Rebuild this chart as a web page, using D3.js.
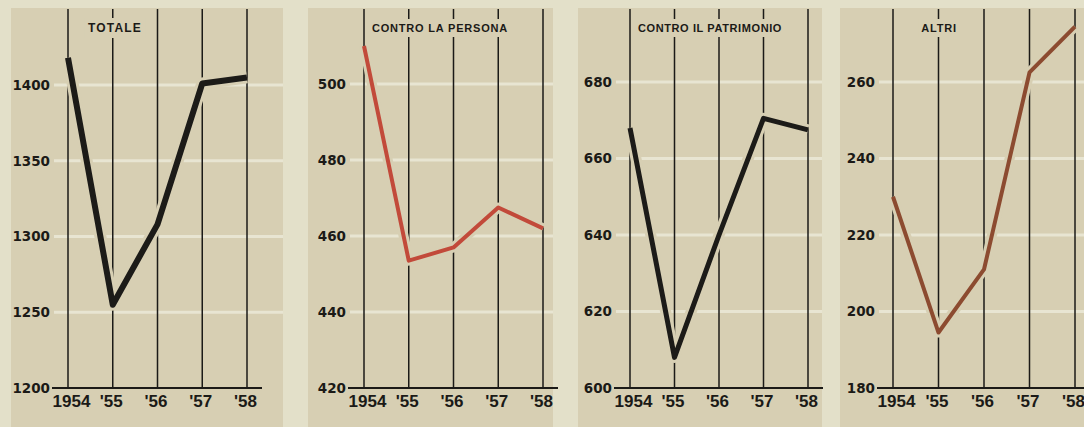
<!DOCTYPE html>
<html>
<head>
<meta charset="utf-8">
<script src="https://cdn.jsdelivr.net/npm/d3@7/dist/d3.min.js"></script>
<style>
  html, body { margin: 0; padding: 0; background: #e3e0c9; }
  svg { display: block; }
</style>
</head>
<body>
<svg id="chart" width="1084" height="427"></svg>
<script>
// Years on the horizontal axis
const years = ["1954", "'55", "'56", "'57", "'58"];

// Series (one per panel)
const totale = [1418, 1255, 1308, 1401, 1405];
const controLaPersona = [510, 453.5, 457, 467.5, 462];
const controIlPatrimonio = [668, 608, 640, 670.5, 667.5];
const altri = [230, 194.5, 211, 262.5, 274.5];

// Vertical-axis tick labels
const totaleTicks = [1200, 1250, 1300, 1350, 1400];
const personaTicks = [420, 440, 460, 480, 500];
const patrimonioTicks = [600, 620, 640, 660, 680];
const altriTicks = [180, 200, 220, 240, 260];

// Panel titles
const titles = ["TOTALE", "CONTRO LA PERSONA", "CONTRO IL PATRIMONIO", "ALTRI"];

const PANEL_BG = "#d7cfb3";
const GRID = "#ece9d8";
const INK = "#1b1a17";

const panels = [
  { title: titles[0], values: totale, ticks: totaleTicks, color: "#1c1b18", width: 6,
    bgX: 11, bgW: 272, x0: 68, x1: 247, top: 85, titleSize: 12, titleSpacing: 1.2, titleX: 115 },
  { title: titles[1], values: controLaPersona, ticks: personaTicks, color: "#c24a3a", width: 4,
    bgX: 308, bgW: 245, x0: 364, x1: 543, top: 84, titleSize: 11, titleSpacing: 0.8, titleX: 440 },
  { title: titles[2], values: controIlPatrimonio, ticks: patrimonioTicks, color: "#1c1b18", width: 5,
    bgX: 578, bgW: 244, x0: 630, x1: 808, top: 82, titleSize: 11, titleSpacing: 0.6, titleX: 710 },
  { title: titles[3], values: altri, ticks: altriTicks, color: "#8c4b30", width: 4,
    bgX: 840, bgW: 244, x0: 893, x1: 1075, top: 82, titleSize: 11, titleSpacing: 0.8, titleX: 939 }
];

const BASE_Y = 388;
const svg = d3.select("#chart");

panels.forEach(p => {
  const g = svg.append("g");

  const x = d3.scalePoint().domain(years).range([p.x0, p.x1]);
  const y = d3.scaleLinear()
    .domain([p.ticks[0], p.ticks[p.ticks.length - 1]])
    .range([BASE_Y, p.top]);

  // panel background
  g.append("rect")
    .attr("x", p.bgX).attr("y", 8)
    .attr("width", p.bgW).attr("height", 427 - 8)
    .attr("fill", PANEL_BG);

  const right = Math.min(p.bgX + p.bgW, 1084);

  // light horizontal guide lines
  g.selectAll("line.grid")
    .data(p.ticks.slice(1))
    .join("line")
    .attr("class", "grid")
    .attr("x1", p.x0 - 14).attr("x2", right)
    .attr("y1", d => y(d)).attr("y2", d => y(d))
    .attr("stroke", GRID).attr("stroke-width", 3).attr("opacity", 0.85);

  // vertical year lines
  g.selectAll("line.year")
    .data(years)
    .join("line")
    .attr("class", "year")
    .attr("x1", d => x(d)).attr("x2", d => x(d))
    .attr("y1", 9).attr("y2", BASE_Y)
    .attr("stroke", INK).attr("stroke-width", 1.5);

  // baseline
  g.append("line")
    .attr("x1", p.x0 - 16).attr("x2", Math.min(p.x1 + 15, 1084))
    .attr("y1", BASE_Y).attr("y2", BASE_Y)
    .attr("stroke", INK).attr("stroke-width", 2);

  // title with a clear band behind it
  const title = g.append("text")
    .attr("x", p.titleX).attr("y", 32)
    .attr("text-anchor", "middle")
    .attr("font-family", "Liberation Sans, Arial, sans-serif")
    .attr("font-weight", "bold")
    .attr("font-size", p.titleSize)
    .attr("letter-spacing", p.titleSpacing)
    .attr("fill", INK)
    .text(p.title);
  const bb = title.node().getBBox();
  g.insert("rect", "text")
    .attr("x", bb.x - 3).attr("y", bb.y - 3)
    .attr("width", bb.width + 6).attr("height", bb.height + 6)
    .attr("fill", PANEL_BG);

  // vertical axis labels
  const yAxis = d3.axisLeft(y).tickValues(p.ticks).tickFormat(d3.format("d"))
    .tickSize(0).tickPadding(0);
  const ya = g.append("g")
    .attr("transform", `translate(${p.x0 - 18},0)`)
    .call(yAxis);
  ya.select(".domain").remove();
  ya.selectAll("text")
    .attr("font-family", "DejaVu Sans, sans-serif")
    .attr("font-weight", "bold")
    .attr("font-size", 13.5)
    .attr("fill", INK);

  // year labels
  const xAxis = d3.axisBottom(x).tickSize(0).tickPadding(0);
  const xa = g.append("g")
    .attr("transform", `translate(0,${BASE_Y + 7})`)
    .call(xAxis);
  xa.select(".domain").remove();
  xa.selectAll("text")
    .attr("font-family", "Liberation Sans, Arial, sans-serif")
    .attr("font-weight", "bold")
    .attr("font-size", 17)
    .attr("fill", INK)
    .attr("dx", (d, i) => i === 0 ? 3 : -2);

  // data line with a background-coloured halo
  const line = d3.line()
    .x((d, i) => x(years[i]))
    .y(d => y(d));

  g.append("path")
    .datum(p.values)
    .attr("d", line)
    .attr("fill", "none")
    .attr("stroke", PANEL_BG)
    .attr("stroke-width", p.width + 6)
    .attr("stroke-linejoin", "round");

  g.append("path")
    .datum(p.values)
    .attr("d", line)
    .attr("fill", "none")
    .attr("stroke", p.color)
    .attr("stroke-width", p.width)
    .attr("stroke-linejoin", "round");
});
</script>
</body>
</html>
